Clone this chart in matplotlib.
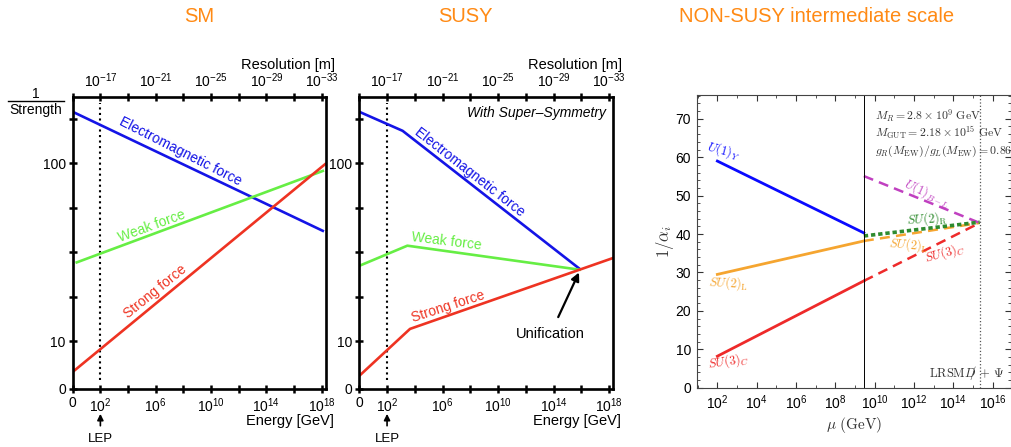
import numpy as np
import matplotlib
matplotlib.use('Agg')
from matplotlib import pyplot as plt
from matplotlib.ticker import (NullLocator, NullFormatter, FixedLocator,
                               FixedFormatter, MultipleLocator)
from matplotlib.lines import Line2D

plt.rcParams['font.family'] = ['Liberation Sans', 'DejaVu Sans']
plt.rcParams['mathtext.fontset'] = 'custom'
plt.rcParams['mathtext.rm'] = 'Liberation Sans'
plt.rcParams['mathtext.it'] = 'Liberation Sans:italic'
plt.rcParams['mathtext.bf'] = 'Liberation Sans:bold'

# ---- data: SM panel (energy in GeV, inverse strength) ----
sm_em_E = [1.0, 1.17e18]
sm_em_inv = [195, 41.7]
sm_weak_E = [1.95, 1.17e18]
sm_weak_inv = [27.7, 90.6]
sm_strong_E = [1.0, 1.74e18]
sm_strong_inv = [6.7, 99]

# ---- data: SUSY panel ----
susy_em_E = [1.0, 1.32e3, 7.4e15]
susy_em_inv = [195, 152.4, 25.5]
susy_weak_E = [1.0, 2.9e3, 7.4e15]
susy_weak_inv = [26.5, 34.4, 25.2]
susy_strong_E = [1.0, 4.5e3, 1.86e18]
susy_strong_inv = [6.37, 11.7, 29.3]
unif_E = 7.4e15
unif_inv = 24.7

# shared axis ticks for the old style panels
energy_ticks = [1, 1e2, 1e4, 1e6, 1e8, 1e10, 1e12, 1e14, 1e16, 1e18]
energy_labels = ['0', '$10^{2}$', '', '$10^{6}$', '', '$10^{10}$', '',
                 '$10^{14}$', '', '$10^{18}$']
res_labels = ['', '$10^{-17}$', '', '$10^{-21}$', '', '$10^{-25}$', '',
              '$10^{-29}$', '', '$10^{-33}$']
inv_ticks = [10 ** 0.73, 10, 10 ** 1.25, 10 ** 1.5, 10 ** 1.75, 100, 10 ** 2.25]
inv_labels = ['0', '10', '', '', '', '100', '']
lep_E = 1e2

# ---- data: non-SUSY panel ----
M_R = 2.8e9
M_GUT = 2.18e15
u1y_mu = [1e2, M_R]
u1y_inv = [59.0, 40.3]
su2l_mu = [1e2, M_R]
su2l_inv = [29.5, 38.2]
su3c_mu = [1e2, M_R]
su3c_inv = [8.2, 27.8]
su2l_hi_mu = [M_R, M_GUT]
su2l_hi_inv = [38.2, 42.9]
su3c_hi_mu = [M_R, M_GUT]
su3c_hi_inv = [27.8, 42.9]
u1bl_mu = [M_R, M_GUT]
u1bl_inv = [55.1, 42.9]
su2r_mu = [M_R, M_GUT]
su2r_inv = [39.5, 43.1]
mu_ticks = [1e2, 1e4, 1e6, 1e8, 1e10, 1e12, 1e14, 1e16]
mu_labels = ['$10^{2}$', '$10^{4}$', '$10^{6}$', '$10^{8}$', '$10^{10}$',
             '$10^{12}$', '$10^{14}$', '$10^{16}$']
mu_minor = [1e1, 1e3, 1e5, 1e7, 1e9, 1e11, 1e13, 1e15]
ainv_ticks = [0, 10, 20, 30, 40, 50, 60, 70]

BLUE = '#1414e6'
GREEN = '#66ee44'
RED = '#ee3322'
ORANGE = '#ff8a14'
GREY = '#333333'

W, H = 1012, 447
fig = plt.figure(figsize=(W / 100, H / 100), dpi=100)


def old_panel(left_px, width_px):
    ax = fig.add_axes([left_px / W, 1 - 389 / H, width_px / W, 292.3 / H])
    ax.set_xscale('log')
    ax.set_yscale('log')
    ax.set_xlim(1, 10 ** 18.3)
    ax.set_ylim(10 ** 0.73, 10 ** 2.375)
    ax.xaxis.set_major_locator(FixedLocator(energy_ticks))
    ax.xaxis.set_major_formatter(FixedFormatter(energy_labels))
    ax.yaxis.set_major_locator(FixedLocator(inv_ticks))
    ax.yaxis.set_major_formatter(FixedFormatter(inv_labels))
    ax.xaxis.set_minor_locator(NullLocator())
    ax.yaxis.set_minor_locator(NullLocator())
    for s in ax.spines.values():
        s.set_linewidth(1.9)
    ax.tick_params(direction='inout', length=6, width=1.8, labelsize=10,
                   pad=2)
    top = ax.twiny()
    top.set_xscale('log')
    top.set_xlim(ax.get_xlim())
    top.xaxis.set_major_locator(FixedLocator(energy_ticks))
    top.xaxis.set_major_formatter(FixedFormatter(res_labels))
    top.xaxis.set_minor_locator(NullLocator())
    top.tick_params(direction='inout', length=6, width=1.8, labelsize=10,
                    pad=2)
    ax.axvline(lep_E, ymin=0.03, ymax=0.98, ls=':', color='black', lw=1.5)
    ax.annotate('LEP', xy=(lep_E, -0.085), xytext=(lep_E, -0.17),
                xycoords=('data', 'axes fraction'),
                textcoords=('data', 'axes fraction'),
                ha='center', va='center', fontsize=9.5,
                arrowprops=dict(arrowstyle='-|>', color='black', lw=1.2,
                                shrinkA=3, shrinkB=0, mutation_scale=9))
    ax.text(1.03, -0.108, 'Energy [GeV]', transform=ax.transAxes,
            ha='right', va='center', fontsize=10.5)
    ax.text(1.035, 1.108, 'Resolution [m]', transform=ax.transAxes,
            ha='right', va='center', fontsize=10.5)
    return ax


# ---- SM panel ----
ax1 = old_panel(72.7, 253.3)
ax1.plot(sm_em_E, sm_em_inv, color=BLUE, lw=1.9)
ax1.plot(sm_weak_E, sm_weak_inv, color=GREEN, lw=1.9)
ax1.plot(sm_strong_E, sm_strong_inv, color=RED, lw=1.9)
ax1.text(10 ** 7.76, 10 ** 2.065, 'Electromagnetic force', color=BLUE,
         rotation=-27, ha='center', va='center', fontsize=10)
ax1.text(10 ** 5.71, 10 ** 1.645, 'Weak force', color=GREEN,
         rotation=20, ha='center', va='center', fontsize=10)
ax1.text(10 ** 5.95, 10 ** 1.28, 'Strong force', color=RED,
         rotation=39, ha='center', va='center', fontsize=10)

# 1/Strength label
fig.text(36 / W, 1 - 94 / H, '1', ha='center', va='center', fontsize=10)
fig.add_artist(Line2D([8 / W, 64 / W], [1 - 101 / H, 1 - 101 / H],
                      color='black', lw=1.0))
fig.text(36 / W, 1 - 110 / H, 'Strength', ha='center', va='center',
         fontsize=10)

# ---- SUSY panel ----
ax2 = old_panel(359.3, 254)
ax2.plot(susy_em_E, susy_em_inv, color=BLUE, lw=1.9)
ax2.plot(susy_weak_E, susy_weak_inv, color=GREEN, lw=1.9)
ax2.plot(susy_strong_E, susy_strong_inv, color=RED, lw=1.9)
ax2.text(10 ** 7.98, 10 ** 1.953, 'Electromagnetic force', color=BLUE,
         rotation=-38, ha='center', va='center', fontsize=10)
ax2.text(10 ** 6.3, 10 ** 1.561, 'Weak force', color=GREEN,
         rotation=-7, ha='center', va='center', fontsize=10)
ax2.text(10 ** 6.42, 10 ** 1.196, 'Strong force', color=RED,
         rotation=18, ha='center', va='center', fontsize=10)
ax2.text(0.971, 0.945, 'With Super\u2013Symmetry', transform=ax2.transAxes,
         ha='right', va='center', fontsize=10, style='italic')
ax2.annotate('Unification', xy=(unif_E, unif_inv),
             xytext=(10 ** 13.75, 10 ** 1.037), ha='center', va='center',
             fontsize=10.5,
             arrowprops=dict(arrowstyle='-|>', color='black', lw=1.6,
                             shrinkA=6, shrinkB=1, mutation_scale=12))

# ---- non-SUSY panel ----
ax3 = fig.add_axes([696.7 / W, 1 - 387.7 / H, 314.3 / W, 292.7 / H])
ax3.set_xscale('log')
ax3.set_xlim(10 ** 0.949, 10 ** 16.93)
ax3.set_ylim(0, 76.2)
ax3.plot(u1y_mu, u1y_inv, color='#0a0aff', lw=2.0)
ax3.plot(su2l_mu, su2l_inv, color='#f5a530', lw=2.0)
ax3.plot(su3c_mu, su3c_inv, color='#ee2a2a', lw=2.0)
ax3.plot(su2l_hi_mu, su2l_hi_inv, color='#f5a530', lw=1.8, ls=(0, (4, 2.5)))
ax3.plot(su3c_hi_mu, su3c_hi_inv, color='#ee2a2a', lw=1.8, ls=(0, (4, 2.5)))
ax3.plot(u1bl_mu, u1bl_inv, color='#c040c0', lw=1.8, ls=(0, (4, 2.5)))
ax3.plot(su2r_mu, su2r_inv, color='#2e8b2e', lw=2.6, ls=(0, (1.2, 0.8)))
ax3.axvline(M_R, color='black', lw=0.7)
ax3.axvline(M_GUT, color='#555555', lw=0.9, ls=':')
ax3.xaxis.set_major_locator(FixedLocator(mu_ticks))
ax3.xaxis.set_major_formatter(FixedFormatter(mu_labels))
ax3.xaxis.set_minor_locator(FixedLocator(mu_minor))
ax3.xaxis.set_minor_formatter(NullFormatter())
ax3.set_yticks(ainv_ticks)
ax3.yaxis.set_minor_locator(MultipleLocator(2))
for s in ax3.spines.values():
    s.set_linewidth(0.8)
    s.set_color('#444444')
ax3.tick_params(which='both', direction='in', top=True, right=True,
                labelsize=10, color=GREY)
ax3.tick_params(which='major', length=4, pad=4)
ax3.tick_params(which='minor', length=2)
ax3.set_ylabel(r'$1/\alpha_i$', math_fontfamily='cm', fontsize=12,
               labelpad=0, color=GREY)
ax3.set_xlabel(r'$\mu\ (\mathrm{GeV})$', math_fontfamily='cm', fontsize=11,
               labelpad=2, color=GREY)

ax3.text(10 ** 10.02, 70.9, r'$M_R = 2.8\times10^9\ \mathrm{GeV}$',
         math_fontfamily='cm', fontsize=8.5, va='center', color=GREY)
ax3.text(10 ** 10.02, 66.2, r'$M_{\mathrm{GUT}} = 2.18\times10^{15}\ \mathrm{GeV}$',
         math_fontfamily='cm', fontsize=8.5, va='center', color=GREY)
ax3.text(10 ** 10.02, 61.4,
         r'$g_R(M_{\mathrm{EW}})/g_L(M_{\mathrm{EW}}) = 0.86$',
         math_fontfamily='cm', fontsize=8.5, va='center', color=GREY)
ax3.text(10 ** 12.78, 3.8, r'$\mathrm{LRSM}D\!\!\!/\,+\,\Psi$',
         math_fontfamily='cm', fontsize=9, va='center', color=GREY)

ax3.text(10 ** 2.34, 61.6, r'$U(1)_Y$', color='#0a0aff', rotation=-15,
         math_fontfamily='cm', fontsize=9, ha='center', va='center')
ax3.text(10 ** 2.56, 27.3, r'$SU(2)_{\mathrm{L}}$', color='#f5a530',
         rotation=-3, math_fontfamily='cm', fontsize=9, ha='center',
         va='center')
ax3.text(10 ** 2.56, 6.8, r'$SU(3)_C$', color='#ee2a2a', rotation=8,
         math_fontfamily='cm', fontsize=9, ha='center', va='center')
ax3.text(10 ** 12.64, 50.6, r'$U(1)_{B-L}$', color='#c040c0', rotation=-25,
         math_fontfamily='cm', fontsize=9, ha='center', va='center')
ax3.text(10 ** 12.64, 43.8, r'$SU(2)_{\mathrm{R}}$', color='#2e8b2e',
         rotation=3, math_fontfamily='cm', fontsize=9, ha='center',
         va='center')
ax3.text(10 ** 11.71, 37.2, r'$SU(2)_{\mathrm{L}}$', color='#f5a530',
         rotation=-5, math_fontfamily='cm', fontsize=9, ha='center',
         va='center')
ax3.text(10 ** 13.58, 35.0, r'$SU(3)_C$', color='#ee2a2a', rotation=15,
         math_fontfamily='cm', fontsize=9, ha='center', va='center')

# ---- titles ----
fig.text(199 / W, 1 - 17 / H, 'SM', color=ORANGE, fontsize=14.5,
         ha='center', va='center')
fig.text(465 / W, 1 - 17 / H, 'SUSY', color=ORANGE, fontsize=14.5,
         ha='center', va='center')
fig.text(817 / W, 1 - 17 / H, 'NON-SUSY intermediate scale', color=ORANGE,
         fontsize=14.5, ha='center', va='center')

fig.savefig('out.png', dpi=100)
